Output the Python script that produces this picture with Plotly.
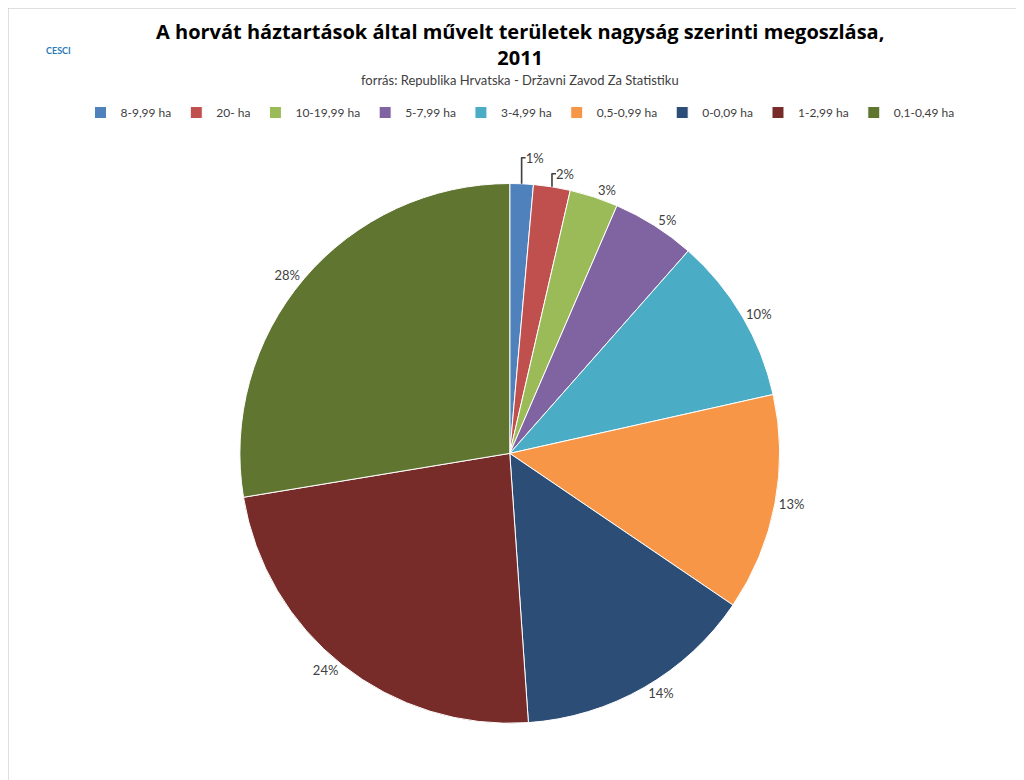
import plotly.graph_objects as go

labels = ["8-9,99 ha", "20- ha", "10-19,99 ha", "5-7,99 ha", "3-4,99 ha",
          "0,5-0,99 ha", "0-0,09 ha", "1-2,99 ha", "0,1-0,49 ha"]
values = [1.4, 2.2, 2.9, 5.0, 10.0, 13.0, 14.4, 23.5, 27.6]
text_pct = ["1%", "2%", "3%", "5%", "10%", "13%", "14%", "24%", "28%"]
colors = ["#4F81BD", "#C0504D", "#9BBB59", "#8064A2", "#4BACC6",
          "#F79646", "#2C4D75", "#772C2A", "#5F7530"]

fig = go.Figure()
fig.add_trace(go.Pie(
    labels=labels, values=values, text=text_pct, textinfo="text",
    textposition="outside", sort=False, direction="clockwise", rotation=0,
    marker=dict(colors=colors, line=dict(color="white", width=1)),
    textfont=dict(size=13, color="#404040"),
    domain=dict(x=[0.19, 0.79], y=[0.083, 0.775]),
    automargin=False,
))
fig.update_layout(
    width=1024, height=780,
    paper_bgcolor="white",
    margin=dict(l=0, r=0, t=0, b=0),
    font=dict(family="Lato", color="#404040"),
    legend=dict(orientation="h", x=0.5, xanchor="center", y=0.866, yanchor="middle",
                font=dict(size=12, color="#404040"), traceorder="normal",
                itemwidth=30),
    shapes=[dict(type="rect", xref="paper", yref="paper", x0=0, y0=0, x1=1, y1=1,
                 line=dict(color="#BFBFBF", width=1))],
    annotations=[
        dict(text="<b>A horvát háztartások által művelt területek nagyság szerinti megoszlása,<br>2011</b>",
             x=0.5, y=0.99, xref="paper", yref="paper", xanchor="center", yanchor="top",
             showarrow=False, font=dict(size=20, color="black", family="Open Sans")),
        dict(text="forrás: Republika Hrvatska - Državni Zavod Za Statistiku",
             x=0.5, y=0.92, xref="paper", yref="paper", xanchor="center", yanchor="top",
             showarrow=False, font=dict(size=13, color="#404040")),
        dict(text="<b>CESCI</b>", x=0.035, y=0.955, xref="paper", yref="paper",
             showarrow=False, font=dict(size=9, color="#2A7AB8")),
    ],
)
fig.write_html("out.html")
